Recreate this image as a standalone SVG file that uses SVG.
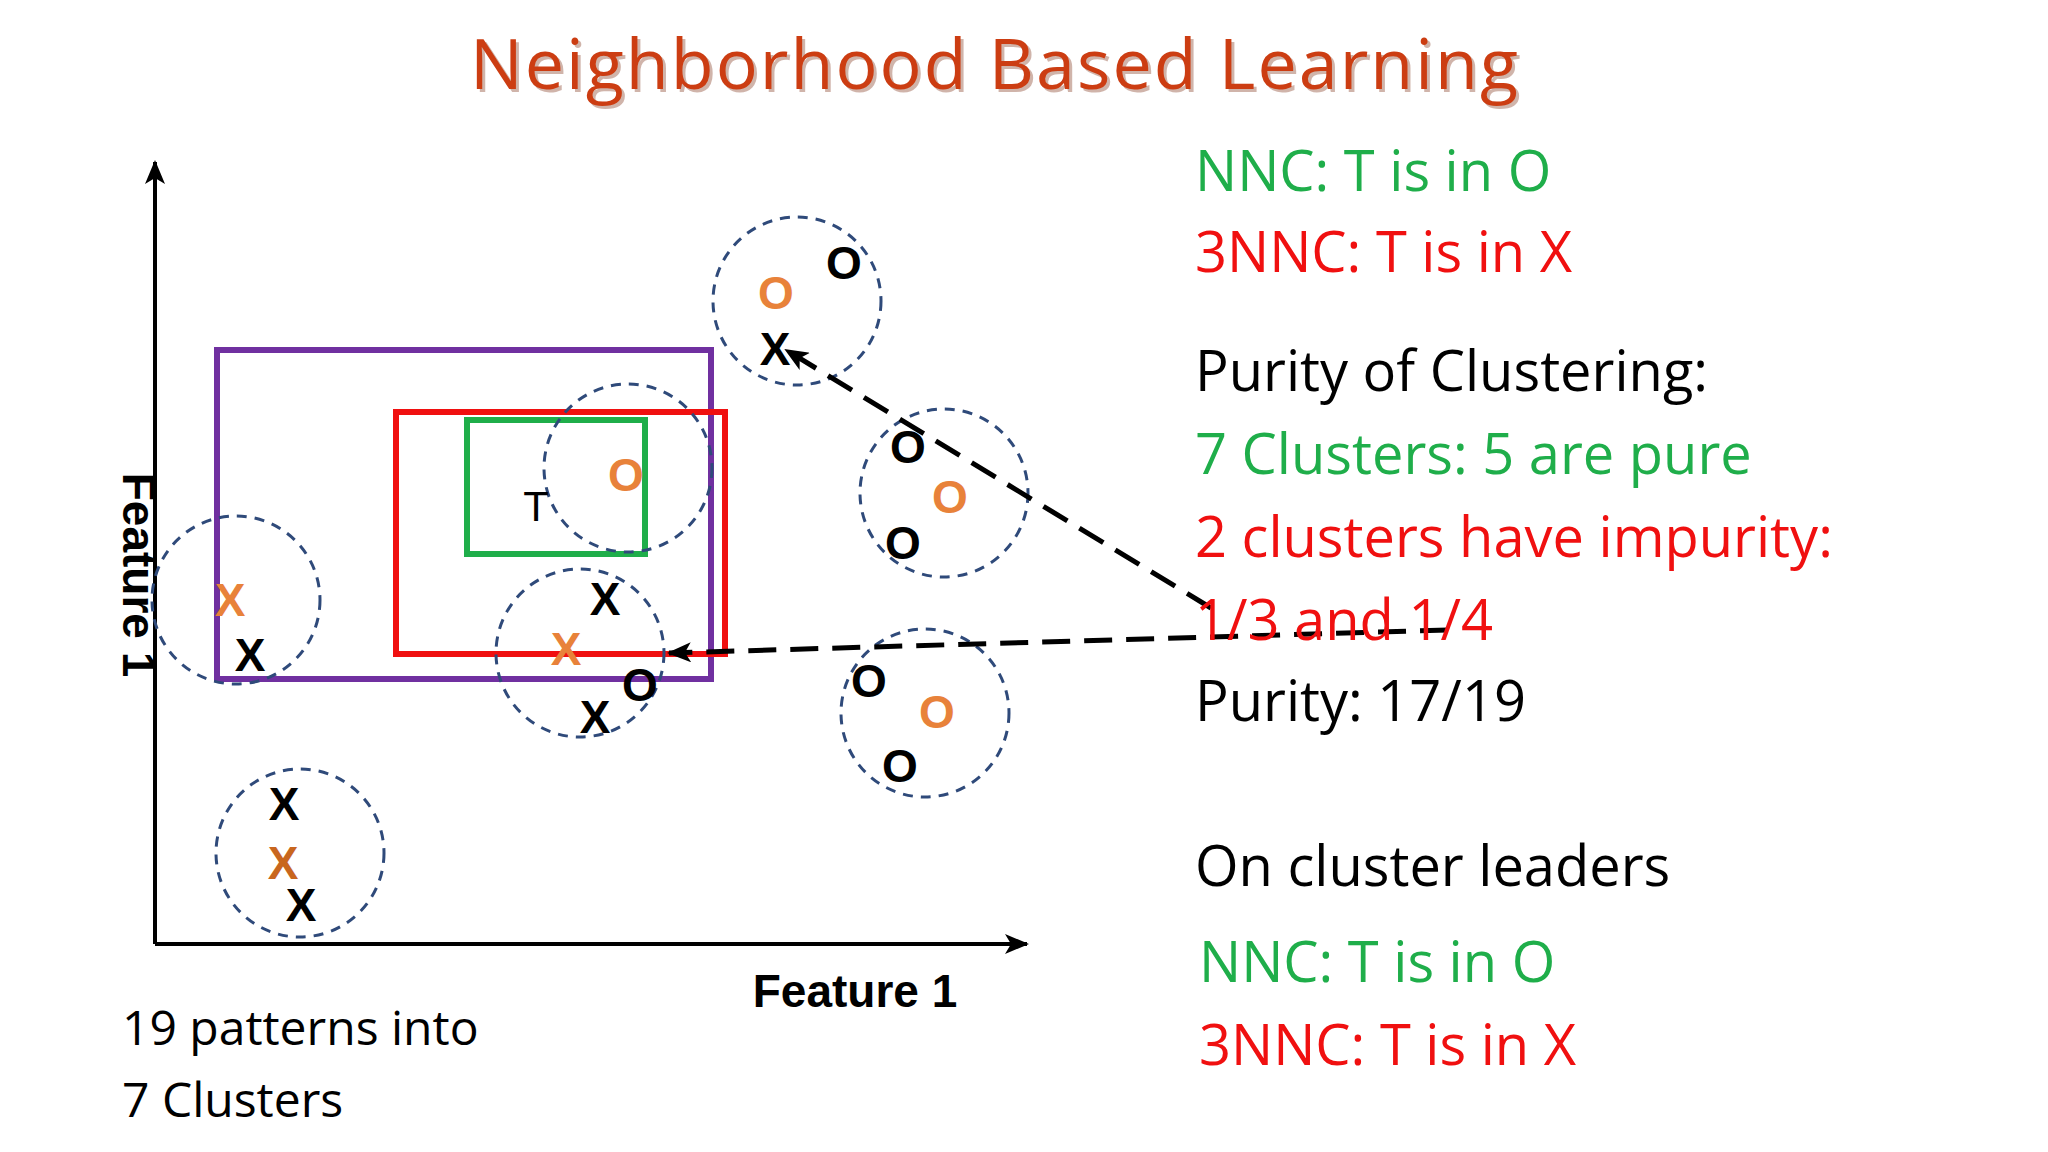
<svg xmlns="http://www.w3.org/2000/svg" width="2048" height="1152" viewBox="0 0 2048 1152">
<style>
.t{font-family:"Open Sans","Liberation Sans",sans-serif}
.m{font-family:"Liberation Sans",sans-serif;font-weight:bold;font-size:46px;text-anchor:middle}
.k{fill:#000}.o{fill:#e8823a}.b{fill:#c8661e}
.c{fill:none;stroke:#2f4a7a;stroke-width:3;stroke-dasharray:10,8}
.r{font-size:56px}
.g{fill:#1fae4a}.rd{fill:#f01010}
</style>
<defs>
<marker id="ah" markerWidth="10" markerHeight="10" refX="9" refY="5" orient="auto" markerUnits="userSpaceOnUse"><path d="M0,0 L10,5 L0,10z" fill="#000"/></marker>
<marker id="ah2" markerWidth="24" markerHeight="20" refX="22" refY="10" orient="auto" markerUnits="userSpaceOnUse"><path d="M0,0 L24,10 L0,20 L6,10z" fill="#000"/></marker>
</defs>
<rect width="2048" height="1152" fill="#fff"/>
<text class="t" x="997" y="92" font-size="70" fill="#7a2a10" opacity="0.35" text-anchor="middle" textLength="1048">Neighborhood Based Learning</text>
<text class="t" x="994" y="89" font-size="70" fill="#cc3d12" text-anchor="middle" textLength="1048">Neighborhood Based Learning</text>
<g id="axes" stroke="#000" stroke-width="4" fill="none">
<line x1="155" y1="944" x2="155" y2="162" marker-end="url(#ah2)"/>
<line x1="155" y1="944" x2="1027" y2="944" marker-end="url(#ah2)"/>
</g>
<g id="boxes" fill="none" stroke-width="6">
<rect x="217" y="350" width="494" height="329" stroke="#7030a0"/>
<rect x="396" y="412" width="329" height="242" stroke="#f01010"/>
<rect x="467" y="420" width="178" height="134" stroke="#1fae4a"/>
</g>
<g id="clusters">
<circle class="c" cx="797" cy="301" r="84"/>
<circle class="c" cx="628" cy="468" r="84"/>
<circle class="c" cx="944" cy="493" r="84"/>
<circle class="c" cx="236" cy="600" r="84"/>
<circle class="c" cx="580" cy="653" r="84"/>
<circle class="c" cx="925" cy="713" r="84"/>
<circle class="c" cx="300" cy="853" r="84"/>
</g>
<g id="points" class="m">
<text class="o" x="776" y="309">O</text><text class="k" x="844" y="279">O</text><text class="k" x="775" y="365">X</text>
<text class="o" x="626" y="491">O</text>
<text class="k" x="536" y="521" font-weight="normal" font-size="42">T</text>
<text class="k" x="908" y="463">O</text><text class="o" x="950" y="513">O</text><text class="k" x="903" y="559">O</text>
<text class="o" x="230" y="616">X</text><text class="k" x="250" y="671">X</text>
<text class="k" x="605" y="615">X</text><text class="o" x="566" y="665">X</text><text class="k" x="640" y="701">O</text><text class="k" x="595" y="733">X</text>
<text class="k" x="869" y="697">O</text><text class="o" x="937" y="728">O</text><text class="k" x="900" y="782">O</text>
<text class="k" x="284" y="820">X</text><text class="b" x="283" y="879">X</text><text class="k" x="301" y="921">X</text>
</g>
<g id="connectors" stroke="#000" stroke-width="5" stroke-dasharray="28,14" fill="none">
<line x1="1448" y1="630" x2="669" y2="653" marker-end="url(#ah2)"/>
<line x1="1211" y1="608" x2="786" y2="350" marker-end="url(#ah2)"/>
</g>
<g id="labels" class="t">
<text x="121" y="575" font-family="Liberation Sans,sans-serif" font-weight="bold" font-size="46" text-anchor="middle" transform="rotate(90 121 575)" dy="-2">Feature 1</text>
<text x="855" y="1007" font-family="Liberation Sans,sans-serif" font-weight="bold" font-size="46" text-anchor="middle" dy="0">Feature 1</text>
<text x="122" y="1045" font-size="48">19 patterns into</text>
<text x="122" y="1117" font-size="48">7 Clusters</text>
</g>
<g id="notes" class="t r">
<text class="g" x="1195" y="191">NNC:  T is in O</text>
<text class="rd" x="1195" y="272">3NNC: T is in X</text>
<text x="1195" y="391">Purity of Clustering:</text>
<text class="g" x="1195" y="474">7 Clusters: 5 are pure</text>
<text class="rd" x="1195" y="557">2 clusters have impurity:</text>
<text class="rd" x="1195" y="640">1/3  and 1/4</text>
<text x="1195" y="721">Purity: 17/19</text>
<text x="1195" y="886">On cluster leaders</text>
<text class="g" x="1199" y="982">NNC:  T is in O</text>
<text class="rd" x="1199" y="1065">3NNC: T is in X</text>
</g>
</svg>
